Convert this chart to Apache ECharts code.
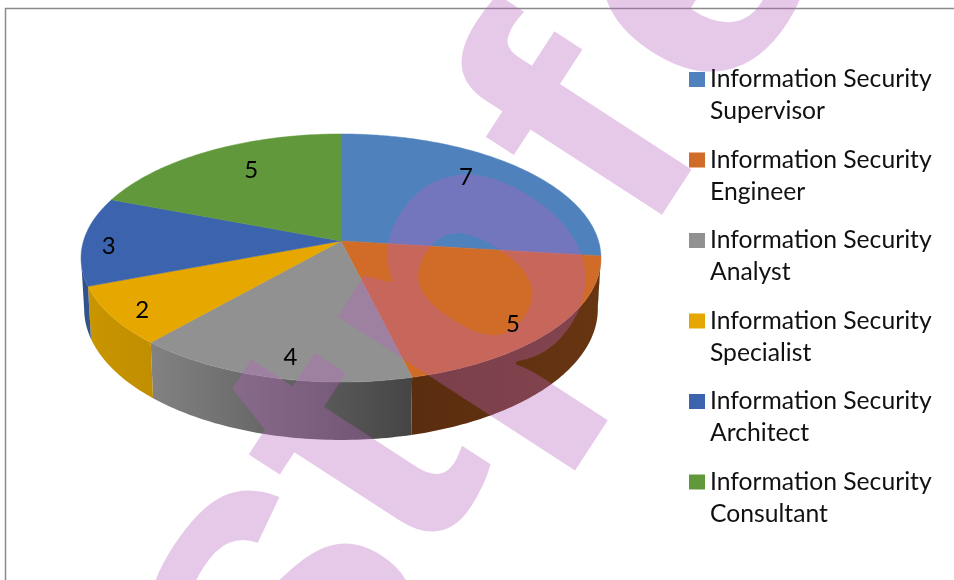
<!DOCTYPE html>
<html><head><meta charset="utf-8">
<style>html,body{margin:0;padding:0;background:#fff}#c{width:954px;height:580px}</style>
<script src="https://cdn.jsdelivr.net/npm/echarts@6/dist/echarts.min.js"></script>
</head><body><div id="c"></div>
<script>
const categories = ['Information Security Supervisor','Information Security Engineer','Information Security Analyst','Information Security Specialist','Information Security Architect','Information Security Consultant'];
const values = [7,5,4,2,3,5];
const colors = ['#4f82bc','#d06b28','#919191','#e5a700','#3c64ae','#62983c'];
const wallStops = [
  ['#3c6590','#3c6590'],
  ['#5a2d0f','#683512'],
  ['#828282','#454545'],
  ['#c99500','#c08e00'],
  ['#2e4f8a','#33578f'],
  ['#4a7530','#4a7530']
];
const labelNudge = [[-2,-11],[28,23],[-3,25],[-42,18],[-52,5],[5,-6]];
const watermark = [
  ['S',340,798,360,1,'Liberation Sans'],
  ['t',447,589,400,1,'Liberation Sans'],
  ['p',504,462,360,1.12,'Open Sans'],
  ['f',663,260,360,1.1,'Liberation Sans'],
  ['e',744,130,360,1.1,'Liberation Sans']
];

const cx=341, cy=241, B=257.5, A=121.7, P=0.137, DEPTH=50;
const total=values.reduce((a,b)=>a+b,0);
const D2R=Math.PI/180;
function proj(theta,r){
  const u=Math.sin(theta)*r, v=-Math.cos(theta)*r, w=1-P*v;
  return [cx+B*u/w, cy+A*v/w, w];
}
function rim(a,b){ const n=Math.max(2,Math.ceil((b-a)/D2R)),o=[]; for(let i=0;i<=n;i++) o.push(a+(b-a)*i/n); return o; }
function range(i){ const s=values.slice(0,i).reduce((a,b)=>a+b,0); return [s/total*2*Math.PI,(s+values[i])/total*2*Math.PI]; }
const WALL_A=96*D2R, WALL_B=262*D2R;

function renderSlice(i){
  return function(params,api){
    const [a,b]=range(i), children=[];
    const wa=Math.max(a,WALL_A), wb=Math.min(b,WALL_B);
    if(wb>wa){
      const top=rim(wa,wb).map(t=>proj(t,1));
      const bottom=top.map(p=>[cx+(p[0]-cx)*0.988,p[1]+DEPTH/p[2]]).reverse();
      children.push({type:'polygon',silent:true,shape:{points:top.map(p=>[p[0],p[1]]).concat(bottom)},
        style:{fill:new echarts.graphic.LinearGradient(0,0,1,0,[{offset:0,color:wallStops[i][0]},{offset:1,color:wallStops[i][1]}])}});
    }
    const pts=[[cx,cy]].concat(rim(a,b).map(t=>{const p=proj(t,1);return [p[0],p[1]];}));
    children.push({type:'polygon',silent:true,shape:{points:pts},style:{fill:colors[i],stroke:colors[i],lineWidth:0.5}});
    return {type:'group',children};
  };
}
function renderLabel(params,api){
  const i=params.dataIndex,[a,b]=range(i),p=proj((a+b)/2,0.7);
  return {type:'text',silent:true,style:{text:String(api.value(0)),x:p[0]+labelNudge[i][0],y:p[1]+labelNudge[i][1],
    align:'center',verticalAlign:'middle',fill:'#000',font:'24px Lato'}};
}

const series=categories.map((name,i)=>({type:'custom',name,coordinateSystem:'none',silent:true,animation:false,z:2,
  itemStyle:{color:colors[i]},data:[values[i]],renderItem:renderSlice(i)}));
series.push({type:'custom',name:'labels',coordinateSystem:'none',silent:true,animation:false,z:20,data:values,renderItem:renderLabel});

const chart=echarts.init(document.getElementById('c'),null,{renderer:'canvas'});
chart.setOption({
  animation:false,backgroundColor:'#fff',
  legend:{data:categories,orient:'vertical',left:689,top:63.5,padding:0,itemWidth:16,itemHeight:47,itemGap:16.5,selectedMode:false,z:30,
    icon:'path://M0,0H16V15H0Z M0,47L0,47',
    formatter:n=>n.replace('Security ','Security\n'),
    textStyle:{fontFamily:'Lato',fontSize:24.7,lineHeight:32,color:'#111'}},
  graphic:[
    {type:'polyline',z:0,silent:true,shape:{points:[[5.5,580],[5.5,8.5],[954,8.5]]},style:{stroke:'#8a8a8a',lineWidth:1.5,fill:null}},
    ...watermark.map(w=>({type:'text',z:10,silent:true,x:w[1],y:w[2],rotation:57*D2R,scaleX:w[4],
      style:{text:w[0],x:0,y:-0.3465*w[3],font:'bold '+w[3]+'px "'+w[5]+'"',fill:'rgba(184,98,189,0.35)',align:'left',verticalAlign:'middle'}}))
  ],
  series
});
</script></body></html>
